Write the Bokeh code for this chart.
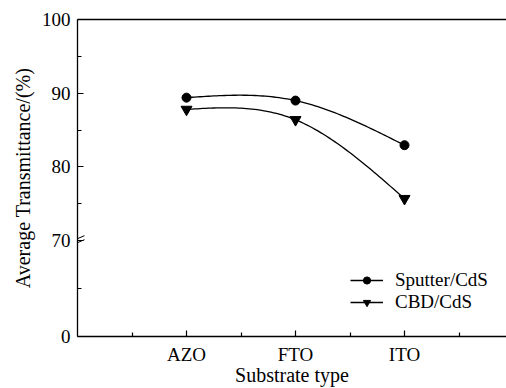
import numpy as np
from bokeh.plotting import figure
from bokeh.models import FixedTicker, LinearAxis, Legend, LegendItem, Range1d, Arrow
from bokeh.embed import file_html
from bokeh.resources import INLINE

# ---- data ----
categories = ["AZO", "FTO", "ITO"]
sputter_cds = [89.4, 89.0, 82.95]
cbd_cds = [87.8, 86.4, 75.7]
y_tick_values = [0, 70, 80, 90, 100]
y_tick_labels = ["0", "70", "80", "90", "100"]
y_minor_values = [35, 75, 85, 95]
series_names = ["Sputter/CdS", "CBD/CdS"]
x_title = "Substrate type"
y_title = "Average Transmittance/(%)"

# ---- broken-axis mapping (0..70 compressed) ----
BREAK = 70.0
LOW_SPAN = 13.0


def disp(v):
    v = np.asarray(v, dtype=float)
    return np.where(v >= BREAK, v, BREAK - LOW_SPAN + v * LOW_SPAN / BREAK)


def natural_spline(xs, ys, n=40):
    xs = np.asarray(xs, float)
    ys = np.asarray(ys, float)
    k = len(xs)
    h = np.diff(xs)
    A = np.zeros((k, k))
    b = np.zeros(k)
    A[0, 0] = 1
    A[-1, -1] = 1
    for i in range(1, k - 1):
        A[i, i - 1] = h[i - 1]
        A[i, i] = 2 * (h[i - 1] + h[i])
        A[i, i + 1] = h[i]
        b[i] = 6 * ((ys[i + 1] - ys[i]) / h[i] - (ys[i] - ys[i - 1]) / h[i - 1])
    M = np.linalg.solve(A, b)
    outx, outy = [], []
    for i in range(k - 1):
        t = np.linspace(0, 1, n, endpoint=(i == k - 2))
        x = xs[i] + t * h[i]
        a = 1 - t
        y = (a * ys[i] + t * ys[i + 1]
             + ((a ** 3 - a) * M[i] + (t ** 3 - t) * M[i + 1]) * h[i] ** 2 / 6)
        outx.extend(x)
        outy.extend(y)
    return np.array(outx), np.array(outy)


xpos = np.arange(1, len(categories) + 1)
FRAME_W = 429
FRAME_H = 317
X_END = FRAME_W / 109.0
Y_START = float(disp(0))

FONT = "Liberation Serif"

p = figure(width=506, height=388, output_backend="svg", toolbar_location=None,
           x_range=Range1d(0, X_END), y_range=Range1d(Y_START, 100),
           min_border_left=77, min_border_right=0, min_border_top=19,
           min_border_bottom=52, background_fill_color="white",
           border_fill_color="white")
p.outline_line_color = None
p.grid.visible = False

px_x = X_END / FRAME_W
px_y = (100 - Y_START) / FRAME_H

# x axis
xa = p.xaxis[0]
xa.ticker = FixedTicker(ticks=list(xpos.astype(float)), minor_ticks=[0.5, 1.5, 2.5, 3.5])
xa.major_label_overrides = {float(x): c for x, c in zip(xpos, categories)}
xa.axis_label = x_title

# y axis
ya = p.yaxis[0]
yd = [float(v) for v in disp(y_tick_values)]
ya.ticker = FixedTicker(ticks=yd, minor_ticks=[float(v) for v in disp(y_minor_values)])
ya.major_label_overrides = {v: s for v, s in zip(yd, y_tick_labels)}
ya.axis_label = y_title

for ax in (xa, ya):
    ax.axis_line_color = "black"
    ax.axis_line_width = 1.3
    ax.major_tick_in = 6
    ax.major_tick_out = 0
    ax.minor_tick_in = 4
    ax.minor_tick_out = 0
    ax.major_tick_line_color = "black"
    ax.minor_tick_line_color = "black"
    ax.major_tick_line_width = 1.2
    ax.minor_tick_line_width = 1.2
    ax.major_label_text_font = FONT
    ax.major_label_text_font_size = "19px"
    ax.major_label_text_color = "black"
    ax.axis_label_text_font = FONT
    ax.axis_label_text_font_size = "20px"
    ax.axis_label_text_font_style = "normal"
    ax.axis_label_text_color = "black"

xa.major_label_standoff = 7
xa.axis_label_standoff = -4
ya.major_label_standoff = 7
ya.axis_label_standoff = 5

# top border line
top = LinearAxis(ticker=FixedTicker(ticks=[]), major_tick_out=0, major_tick_in=0,
                 minor_tick_out=0, minor_tick_in=0, major_label_standoff=0,
                 axis_line_color="black", axis_line_width=1.3,
                 major_label_text_font_size="0px")
p.add_layout(top, "above")

# series
renderers = []
for vals, marker, size in ((sputter_cds, "circle", 9), (cbd_cds, "inverted_triangle", 11)):
    sx, sy = natural_spline(xpos, disp(vals))
    ln = p.line(sx, sy, line_color="black", line_width=1.3)
    sc = p.scatter(xpos, disp(vals), marker=marker, size=size,
                   fill_color="black", line_color="black")
    renderers.append([ln, sc])

legend = Legend(items=[LegendItem(label=n, renderers=r) for n, r in zip(series_names, renderers)],
                location=(273, 23), border_line_color=None, background_fill_alpha=0,
                padding=0, margin=0, spacing=-2, glyph_width=33, glyph_height=18,
                label_height=18, label_standoff=12, label_text_font=FONT,
                label_text_font_size="19px", label_text_color="black")
p.add_layout(legend)

# axis-break marks on the left axis and at the (cropped) right frame edge
for x0 in (0.0, 436 * px_x):
    for off in (-2.0, 2.0):
        yc = BREAK + off * px_y
        p.add_layout(Arrow(end=None, x_start=x0 - 7 * px_x, y_start=yc - 3 * px_y,
                           x_end=x0 + 7 * px_x, y_end=yc + 3 * px_y,
                           line_color="black", line_width=1.0))

open("out.html", "w").write(file_html(p, INLINE))
